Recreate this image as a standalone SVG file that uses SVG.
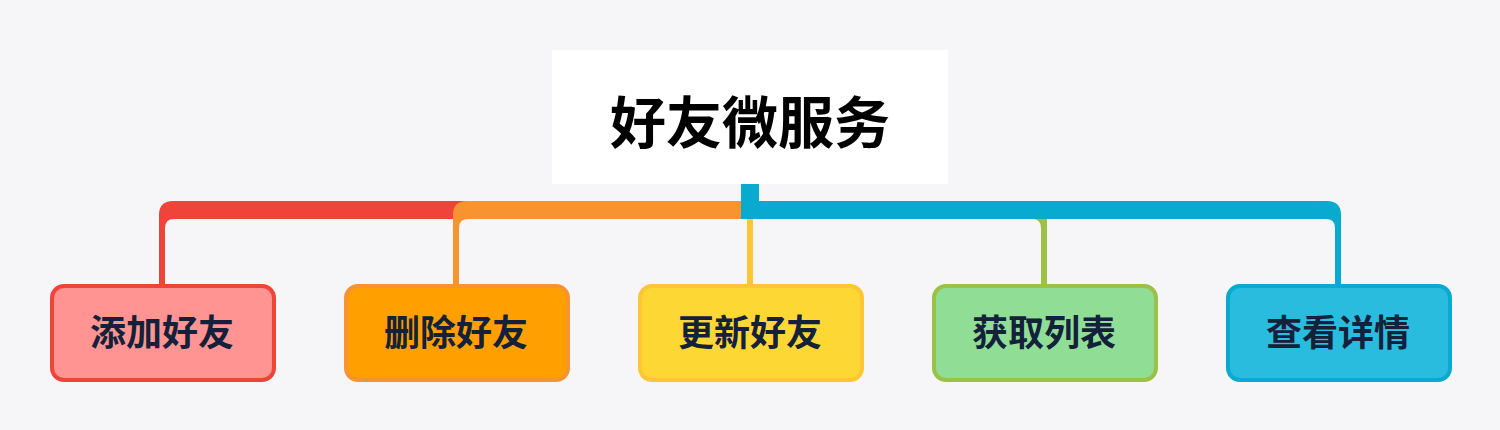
<svg xmlns="http://www.w3.org/2000/svg" width="1500" height="430" viewBox="0 0 1500 430">
<style>
.t{font-family:"Noto Sans CJK SC","Noto Sans",sans-serif;font-weight:700;text-anchor:middle;dominant-baseline:central}
.leaf{font-size:36px;fill:#13213a}
.box{stroke-width:4}
</style>
<rect width="1500" height="430" fill="#f6f6f8"/>
<g id="connectors">
<path fill="#f0443a" d="M741 201H173Q159 201 159 215V286H165V228Q165 219 174 219H741Z"/>
<path fill="#f89430" d="M741 201H467Q453 201 453 215V286H459V228Q459 219 468 219H741Z"/>
<path fill="#fdc634" d="M747 210V286H753V210Z"/>
<path fill="#9dc146" d="M759 201H1033Q1047 201 1047 215V286H1041V228Q1041 219 1032 219H759Z"/>
<path fill="#08abcf" d="M741 184H759V201H1327Q1341 201 1341 215V286H1335V228Q1335 219 1326 219H741Z"/>
</g>
<g id="root">
<rect x="552" y="50" width="396" height="134" fill="#ffffff"/>
<text class="t" x="750" y="118" font-size="56" fill="#000000">好友微服务</text>
</g>
<g id="n1">
<rect class="box" x="52" y="286" width="222" height="94" rx="12" fill="#ff9493" stroke="#f0443a"/>
<text class="t leaf" x="162" y="330">添加好友</text>
</g>
<g id="n2">
<rect class="box" x="346" y="286" width="222" height="94" rx="12" fill="#ff9f00" stroke="#f89430"/>
<text class="t leaf" x="456" y="330">删除好友</text>
</g>
<g id="n3">
<rect class="box" x="640" y="286" width="222" height="94" rx="12" fill="#fdd835" stroke="#fdc634"/>
<text class="t leaf" x="750" y="330">更新好友</text>
</g>
<g id="n4">
<rect class="box" x="934" y="286" width="222" height="94" rx="12" fill="#90de96" stroke="#9dc146"/>
<text class="t leaf" x="1044" y="330">获取列表</text>
</g>
<g id="n5">
<rect class="box" x="1228" y="286" width="222" height="94" rx="12" fill="#29bcdf" stroke="#08abcf"/>
<text class="t leaf" x="1338" y="330">查看详情</text>
</g>
</svg>
